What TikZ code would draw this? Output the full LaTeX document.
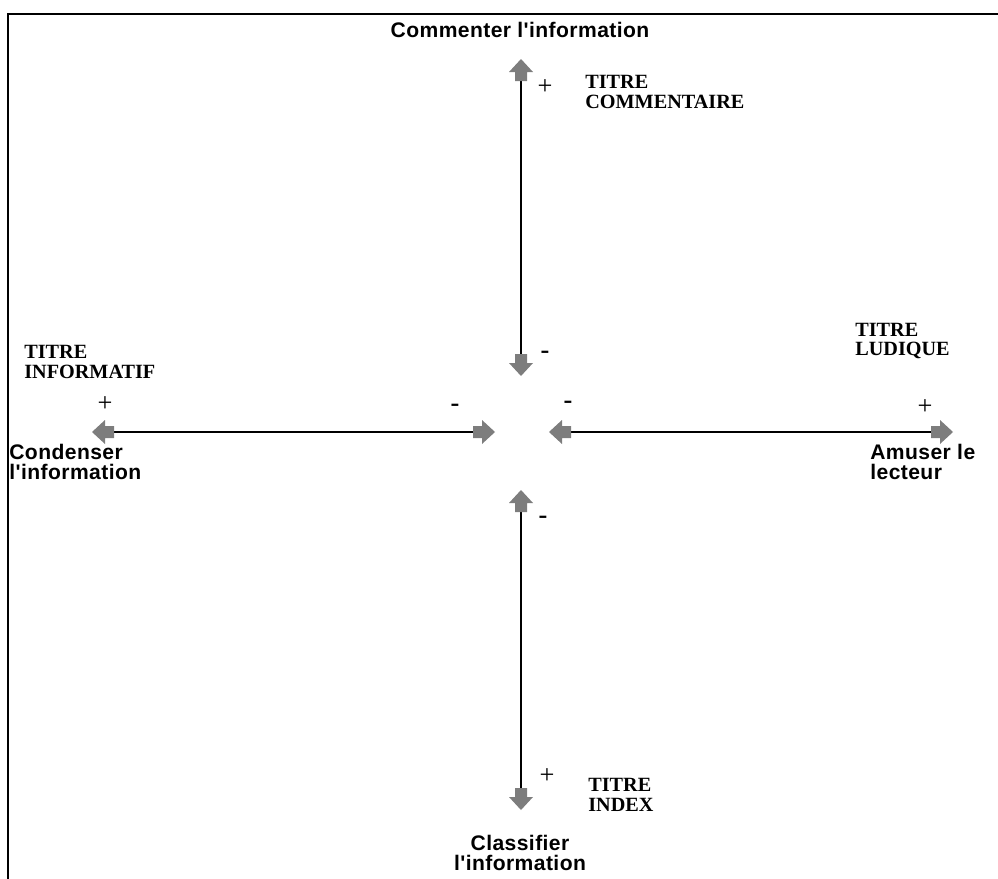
\documentclass[tikz,border=0pt]{standalone}
\usepackage{fontspec}
\setmainfont{Liberation Serif}
\setsansfont{Liberation Sans}[LetterSpace=2, Ligatures=TeXOff]
\usetikzlibrary{positioning}
\definecolor{headgray}{RGB}{125,125,125}
\tikzset{
  axe/.style={line width=0.7pt, shorten <=0.44cm, shorten >=0.44cm},
  tete/.pic={\fill[headgray] (0,0) -- (-13,-12) -- (-13,-6) -- (-22,-6) -- (-22,6) -- (-13,6) -- (-13,12) -- cycle;},
  pole/.style={font=\sffamily\bfseries\fontsize{12}{11}\selectfont, align=left, inner sep=0pt},
  titre/.style={font=\rmfamily\bfseries\fontsize{11.5}{11}\selectfont, align=left, inner sep=0pt},
  signe/.style={font=\fontsize{15}{15}\selectfont, inner sep=0pt}
}
\begin{document}
\begin{tikzpicture}[x=0.02cm, y=-0.02cm]
	\useasboundingbox (0,0) rectangle (998,879);
	\draw[line width=1.6pt] (8,879) -- (8,14) -- (998,14);
	
	\coordinate (haut) at (521,59);
	\coordinate (centreN) at (521,376);
	\coordinate (centreS) at (521,490);
	\coordinate (bas) at (521,810);
	\coordinate (gauche) at (92,432);
	\coordinate (centreO) at (495,432);
	\coordinate (centreE) at (549,432);
	\coordinate (droite) at (953,432);
	
	\draw[axe] (haut) -- (centreN);
	\draw[axe] (centreS) -- (bas);
	\draw[axe] (gauche) -- (centreO);
	\draw[axe] (centreE) -- (droite);
	\pic[rotate=90] at (haut) {tete};
	\pic[rotate=-90] at (centreN) {tete};
	\pic[rotate=90] at (centreS) {tete};
	\pic[rotate=-90] at (bas) {tete};
	\pic[rotate=180] at (gauche) {tete};
	\pic at (centreO) {tete};
	\pic[rotate=180] at (centreE) {tete};
	\pic at (droite) {tete};
	
	\node[pole] (comm) at (520,30) {Commenter l'information};
	\node[pole, anchor=west] (cond) at (9,462) {Condenser\\l'information};
	\node[pole, anchor=west] (amus) at (870,462) {Amuser le\\lecteur};
	\node[pole, align=center] (class) at (520,853) {Classifier\\l'information};
	
	\node[titre, anchor=west] (tcomm) at (585,92) {TITRE\\COMMENTAIRE};
	\node[titre, anchor=west] (tlud) at (855,341) {TITRE\\LUDIQUE};
	\node[titre, anchor=west] (tinfo) at (24,362) {TITRE\\INFORMATIF};
	\node[titre, anchor=west] (tind) at (588,795) {TITRE\\INDEX};
	
	\node[signe] (pcomm) at (545,87) {+};
	\node[signe] (pinfo) at (105,404) {+};
	\node[signe] (plud) at (925,407) {+};
	\node[signe] (pind) at (547,776) {+};
	\node[signe] (mcomm) at (545,355) {\textbf{-}};
	\node[signe] (minfo) at (455,408) {\textbf{-}};
	\node[signe] (mlud) at (568,405) {\textbf{-}};
	\node[signe] (mind) at (543,520) {\textbf{-}};
\end{tikzpicture}
\end{document}
